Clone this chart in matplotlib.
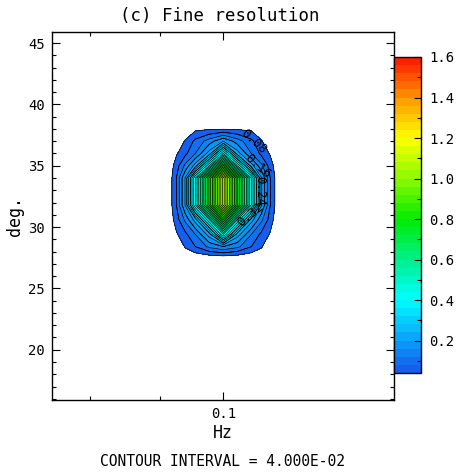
import numpy as np
import matplotlib
matplotlib.use("Agg")
import matplotlib.pyplot as plt
from matplotlib.colors import LinearSegmentedColormap
from matplotlib.ticker import FixedLocator, NullFormatter, MultipleLocator

plt.rcParams['font.family'] = ['DejaVu Sans Mono', 'DejaVu Sans']

# grid nodes (frequency in Hz, direction in deg.)
freq = [0.091067, 0.092447, 0.093847, 0.095430, 0.097688, 0.1,
        0.102367, 0.104789, 0.106556, 0.10817, 0.109809]
deg = [26.4, 27.4, 28.4, 29.4, 30.6, 31.8, 32.9, 34, 35, 36, 37, 38, 39, 40]

# spectral density, one row per deg value
z = [
    [0, 0, 0, 0, 0, 0, 0, 0, 0, 0, 0],
    [0, 0, 0, 0, 0, 0, 0, 0, 0, 0, 0],
    [0, 0, 0.045, 0.08, 0.13, 0.16, 0.13, 0.08, 0.045, 0, 0],
    [0, 0.035, 0.07, 0.12, 0.22, 0.44, 0.22, 0.12, 0.07, 0.035, 0],
    [0, 0.06, 0.13, 0.22, 0.44, 0.77, 0.44, 0.22, 0.13, 0.06, 0],
    [0, 0.08, 0.205, 0.44, 0.77, 1.10, 0.77, 0.44, 0.205, 0.08, 0],
    [0, 0.08, 0.205, 0.44, 0.77, 1.10, 0.77, 0.44, 0.205, 0.08, 0],
    [0, 0.08, 0.205, 0.44, 0.77, 1.10, 0.77, 0.44, 0.205, 0.08, 0],
    [0, 0.06, 0.13, 0.22, 0.44, 0.77, 0.44, 0.22, 0.13, 0.06, 0],
    [0, 0.035, 0.07, 0.12, 0.22, 0.44, 0.22, 0.12, 0.07, 0.035, 0],
    [0, 0, 0.045, 0.09, 0.14, 0.20, 0.14, 0.09, 0.045, 0, 0],
    [0, 0, 0, 0.03, 0.035, 0.035, 0.035, 0.03, 0, 0, 0],
    [0, 0, 0, 0, 0, 0, 0, 0, 0, 0, 0],
    [0, 0, 0, 0, 0, 0, 0, 0, 0, 0, 0],
]

interval = 0.04
lev_min, lev_max = 0.04, 1.6
label_levels = [0.08, 0.16, 0.24, 0.32]
cbar_ticks = [0.2, 0.4, 0.6, 0.8, 1.0, 1.2, 1.4, 1.6]

levels = np.round(np.arange(lev_min, lev_max + interval / 2, interval), 2)

# colour scale sampled from the key
stops = [(0.04, (25, 85, 235)), (0.2, (10, 160, 250)), (0.4, (0, 255, 255)),
         (0.6, (0, 240, 140)), (0.8, (0, 235, 0)), (1.0, (140, 250, 0)),
         (1.2, (255, 255, 0)), (1.4, (255, 150, 0)), (1.6, (255, 20, 0))]
cmap = LinearSegmentedColormap.from_list(
    "ferret", [((v - lev_min) / (lev_max - lev_min), tuple(c / 255 for c in col)) for v, col in stops])

fig = plt.figure(figsize=(4.59, 4.73), dpi=100)
ax = fig.add_axes([52 / 459, 1 - 400 / 473, 342 / 459, 368 / 473])

X, Y = np.meshgrid(freq, deg)
Z = np.array(z)
cf = ax.contourf(X, Y, Z, levels=levels, cmap=cmap, vmin=lev_min, vmax=lev_max)
cs = ax.contour(X, Y, Z, levels=levels, colors='k', linewidths=0.5)
# labelled lines drawn once more so clabel only sees those levels
cs_lab = ax.contour(X, Y, Z, levels=label_levels, colors='k', linewidths=0.5)
ax.clabel(cs_lab, fmt='%.2f', fontsize=9, colors='k', inline=False,
          manual=[(0.10514, 36.9), (0.10602, 35.0), (0.10638, 32.9), (0.10461, 31.0)])

ax.set_xscale('log')
ax.set_xlim(0.0751, 0.133)
ax.set_ylim(15.9, 45.9)
ax.xaxis.set_major_locator(FixedLocator([0.1]))
ax.xaxis.set_major_formatter(plt.FixedFormatter(["0.1"]))
ax.xaxis.set_minor_locator(FixedLocator([0.08, 0.09]))
ax.xaxis.set_minor_formatter(NullFormatter())
ax.yaxis.set_major_locator(MultipleLocator(5))
ax.yaxis.set_minor_locator(MultipleLocator(1))
ax.tick_params(which='both', direction='in', top=True, right=True, labelsize=10, width=0.8)
ax.tick_params(which='major', length=6, pad=5)
ax.tick_params(which='minor', length=3)
for s in ax.spines.values():
    s.set_linewidth(1.0)
ax.set_xlabel("Hz", fontsize=12, labelpad=2)
ax.set_ylabel("deg.", fontsize=12, labelpad=3)

# colour key
cax = fig.add_axes([394 / 459, 1 - 373 / 473, 27 / 459, 316 / 473])
cb = fig.colorbar(cf, cax=cax, ticks=cbar_ticks)
cb.ax.set_yticklabels(["%.1f" % t for t in cbar_ticks])
cb.ax.yaxis.set_minor_locator(FixedLocator([0.1, 0.3, 0.5, 0.7, 0.9, 1.1, 1.3, 1.5]))
cb.ax.tick_params(which='both', direction='in', labelsize=10, width=0.8)
cb.ax.tick_params(which='major', length=5, pad=6)
cb.ax.tick_params(which='minor', length=3)
cb.outline.set_linewidth(1.0)

fig.text(220 / 459, 1 - 16 / 473, "(c) Fine resolution", ha='center', va='center', fontsize=12.5)
fig.text(223 / 459, 1 - 461 / 473, "CONTOUR INTERVAL = 4.000E-02", ha='center', va='center', fontsize=10.5)

fig.savefig("out.png", dpi=100)
